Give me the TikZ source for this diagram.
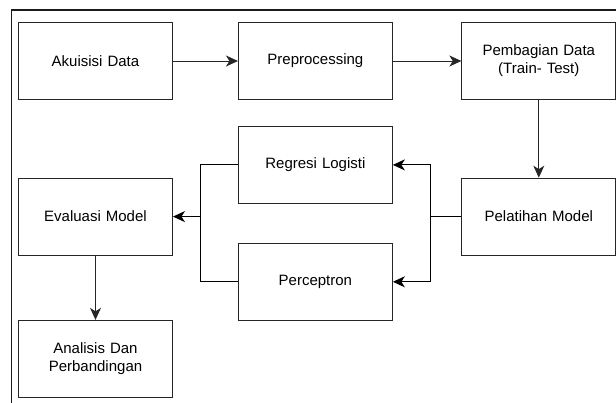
\documentclass[tikz,border=0pt]{standalone}
\usepackage{fontspec}
\setmainfont{Liberation Sans}
\usepackage{tikz}
\usetikzlibrary{arrows.meta, positioning, calc}
\definecolor{edge}    {HTML}{262626}
\definecolor{frameln} {HTML}{1A1A1A}

\begin{document}
\begin{tikzpicture}[
    x=1pt, y=-1pt,
    node distance=65pt and 65pt,
    box/.style={draw=edge, line width=0.9pt, fill=white,
                minimum width=154pt, minimum height=77pt,
                text width=150pt, align=center, inner sep=0pt,
                font=\fontsize{15}{18}\selectfont},
    arr/.style={-{Stealth[length=12pt, width=11pt, inset=3.5pt]}, line width=0.9pt, color=edge},
    bus/.style={line width=1.1pt, color=black},
  ]
    \useasboundingbox (0,0) rectangle (616,402);
    \draw[line width=1.2pt, color=frameln] (11.7,420) -- (11.7,10) -- (630,10);

    \node[box] (akuisisi) at (95.5,61) {Akuisisi Data};

    \node[box, right=65pt of akuisisi] (prepro) {Preprocessing};

    \node[box, right=68.5pt of prepro] (pembagian)
      {Pembagian Data\\(Train- Test)};

    \node[box, below=77.7pt of pembagian] (pelatihan) {Pelatihan Model};

    \node[box, below=26pt of prepro] (regresi) {Regresi Logisti};

    \node[box, below=39pt of regresi] (perceptron) {Perceptron};

    \node[box, below=77.7pt of akuisisi] (evaluasi) {Evaluasi Model};

    \node[box, below=64.3pt of evaluasi] (analisis)
      {Analisis Dan\\Perbandingan};

    \coordinate (rbus) at ($(pelatihan.west)+(-31,0)$);
    \coordinate (lbus) at ($(regresi.west |- evaluasi.east)+(-37.7,0)$);

    \draw[arr] (akuisisi)   -- (prepro);
    \draw[arr] (prepro)     -- (pembagian);
    \draw[arr] (pembagian)  -- (pelatihan);
    \draw[bus] (pelatihan.west) -- (rbus);
    \draw[arr, bus] (rbus) |- (regresi.east);
    \draw[arr, bus] (rbus) |- (perceptron.east);
    \draw[bus] (regresi.west) -| (lbus) |- (perceptron.west);
    \draw[arr, bus] (lbus) -- (evaluasi.east);
    \draw[arr] (evaluasi)   -- (analisis);
  \end{tikzpicture}
\end{document}
